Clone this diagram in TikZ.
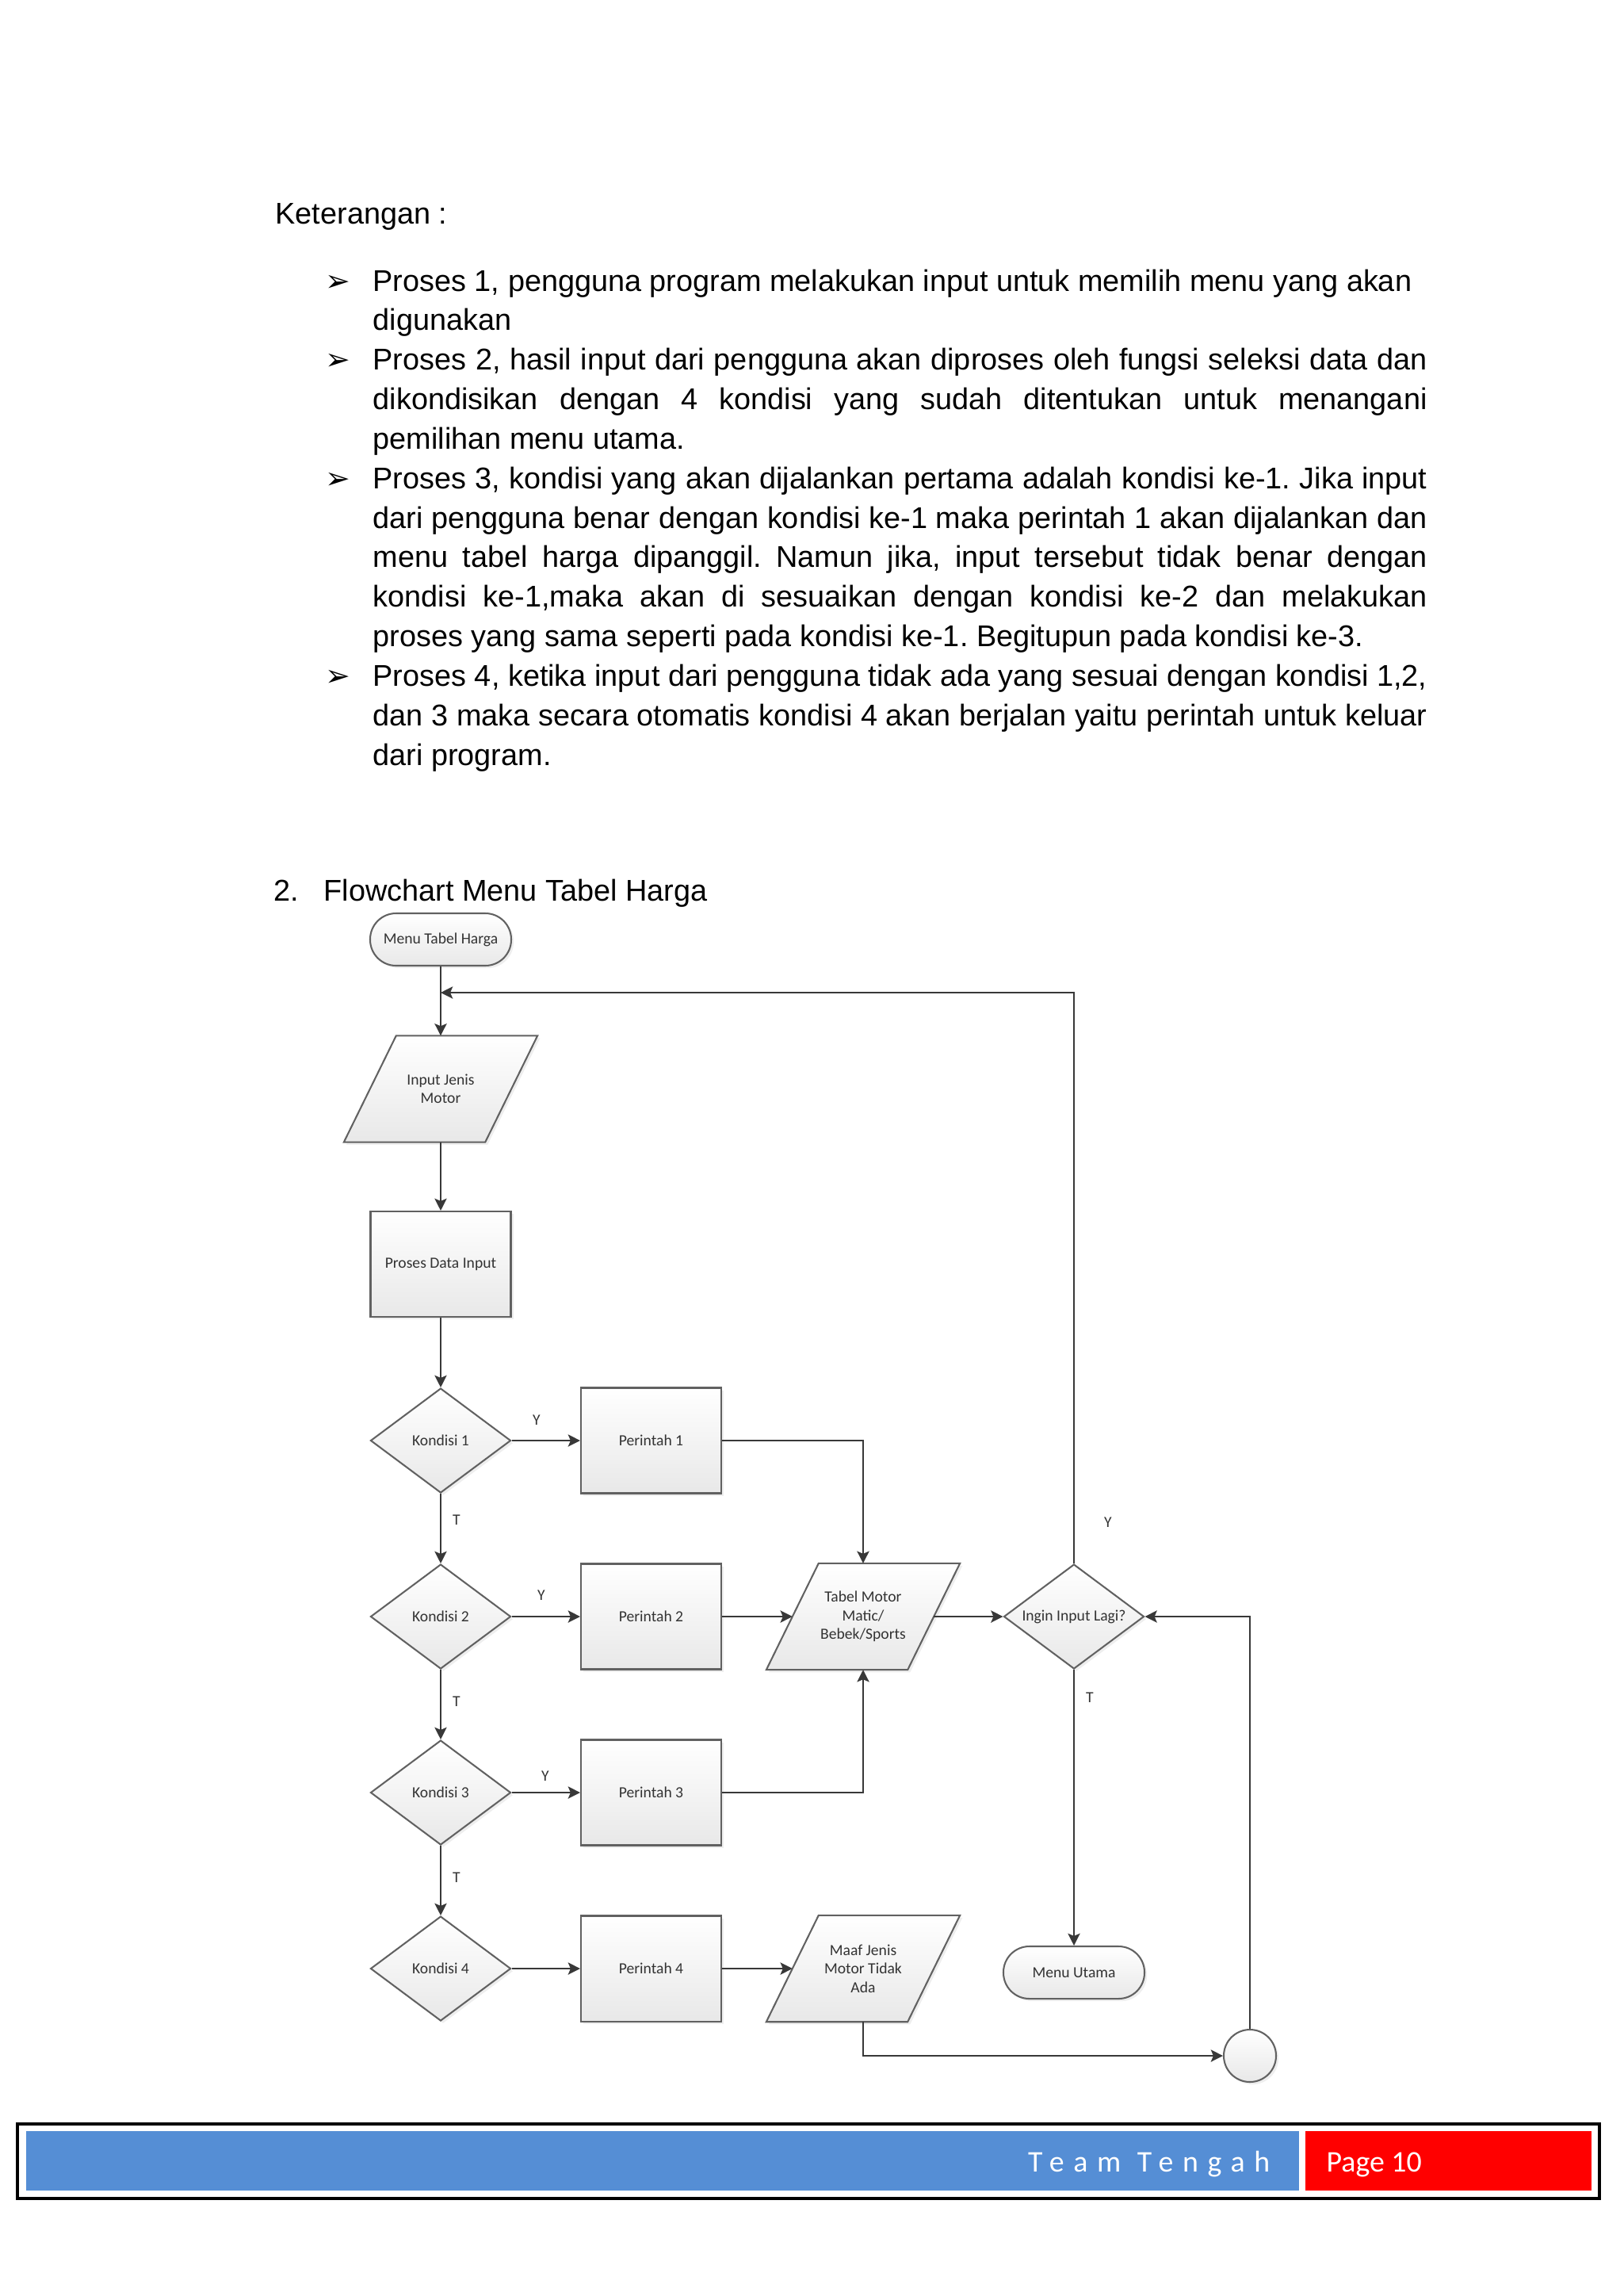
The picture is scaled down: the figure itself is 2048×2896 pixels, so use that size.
\documentclass[tikz,border=0pt]{standalone}
\usepackage{fontspec}
\setmainfont{Liberation Sans}
\newfontfamily\calfont{Carlito}
\newfontfamily\dejafont{DejaVu Sans}
\usetikzlibrary{shapes.geometric,arrows.meta,calc,backgrounds,shadows}
\pgfdeclarelayer{bgpage}
\pgfsetlayers{bgpage,background,main}
\def\pxl{0.29067pt}
\frenchspacing
\definecolor{footblue}{RGB}{85,142,213}
\begin{document}
\begin{tikzpicture}[x=0.29067pt,y=-0.29067pt,
  body/.style={font=\fontsize{11}{14.5}\selectfont, anchor=base west, inner sep=0},
  bul/.style={font=\dejafont\fontsize{11}{12}\selectfont, anchor=base west, inner sep=0},
  fc/.style={font=\calfont\fontsize{5.7}{6.85}\selectfont, text=black!80, align=center, inner sep=0},
  shp/.style={draw=black!62, line width=0.6pt, top color=white, bottom color=black!9,
    drop shadow={opacity=0.13, shadow xshift=0.9pt, shadow yshift=-0.9pt}},
  procbox/.style={fc, shp, rectangle, minimum width=177*\pxl, minimum height=133*\pxl},
  decbox/.style={fc, shp, diamond, aspect=1.34, minimum width=177*\pxl, minimum height=132*\pxl},
  termbox/.style={fc, shp, rectangle, rounded corners=9.5pt, minimum width=178*\pxl, minimum height=66*\pxl},
  iobox/.style={fc, rectangle, minimum width=177*\pxl, minimum height=133*\pxl},
  connbox/.style={shp, circle, minimum size=66*\pxl, inner sep=0},
  lbl/.style={fc},
  ln/.style={draw=black!78, line width=0.75pt},
  arr/.style={ln, -{Stealth[length=4.4pt,width=4.4pt,inset=0.9pt]}}
]
\useasboundingbox (0,0) rectangle (2048,2896);
\begin{pgfonlayer}{bgpage}
\fill[white] (0,0) rectangle (2048,2896);
\end{pgfonlayer}

% ---------- text ----------
\node[body] (ket) at (347,282) {Keterangan :};
\node[bul] (b0) at (410,367) {➢};
\node[bul] (b1) at (410,466.7) {➢};
\node[bul] (b2) at (410,616.25) {➢};
\node[bul] (b3) at (410,865.5) {➢};
\node[body] (l0) at (470,367) {Proses 1, pengguna program melakukan input untuk memilih menu yang akan};
\node[body] (l1) at (470,416.85) {digunakan};
\node[body] (l2) at (470,466.7) {\makebox[386.6pt][s]{Proses 2, hasil input dari pengguna akan diproses oleh fungsi seleksi data dan}};
\node[body] (l3) at (470,516.55) {\makebox[386.6pt][s]{dikondisikan dengan 4 kondisi yang sudah ditentukan untuk menangani}};
\node[body] (l4) at (470,566.4) {pemilihan menu utama.};
\node[body] (l5) at (470,616.25) {\makebox[386.6pt][s]{Proses 3, kondisi yang akan dijalankan pertama adalah kondisi ke-1. Jika input}};
\node[body] (l6) at (470,666.1) {\makebox[386.6pt][s]{dari pengguna benar dengan kondisi ke-1 maka perintah 1 akan dijalankan dan}};
\node[body] (l7) at (470,715.95) {\makebox[386.6pt][s]{menu tabel harga dipanggil. Namun jika, input tersebut tidak benar dengan}};
\node[body] (l8) at (470,765.8) {\makebox[386.6pt][s]{kondisi ke-1,maka akan di sesuaikan dengan kondisi ke-2 dan melakukan}};
\node[body] (l9) at (470,815.65) {proses yang sama seperti pada kondisi ke-1. Begitupun pada kondisi ke-3.};
\node[body] (l10) at (470,865.5) {\makebox[386.6pt][s]{Proses 4, ketika input dari pengguna tidak ada yang sesuai dengan kondisi 1,2,}};
\node[body] (l11) at (470,915.35) {\makebox[386.6pt][s]{dan 3 maka secara otomatis kondisi 4 akan berjalan yaitu perintah untuk keluar}};
\node[body] (l12) at (470,965.2) {dari program.};

\node[body] (hnum) at (345,1136) {2.};
\node[body] (htitle) at (408,1136) {Flowchart Menu Tabel Harga};

% ---------- flowchart nodes ----------
\node[termbox] (start) at (556,1185) {Menu Tabel Harga};
\coordinate (j1) at (556,1252);
\node[iobox] (inp) at (556,1373.5) {Input Jenis\\Motor};
\node[procbox] (proc) at (556,1594.5) {Proses Data Input};
\node[decbox] (k1) at (556,1817) {Kondisi 1};
\node[decbox] (k2) at (556,2039) {Kondisi 2};
\node[decbox] (k3) at (556,2261) {Kondisi 3};
\node[decbox] (k4) at (556,2483) {Kondisi 4};
\node[procbox] (p1) at (821.5,1817) {Perintah 1};
\node[procbox] (p2) at (821.5,2039) {Perintah 2};
\node[procbox] (p3) at (821.5,2261) {Perintah 3};
\node[procbox] (p4) at (821.5,2483) {Perintah 4};
\node[iobox] (tab) at (1089,2039) {Tabel Motor\\Matic/\\Bebek/Sports};
\node[iobox] (maaf) at (1089,2483) {Maaf Jenis\\Motor Tidak\\Ada};
\node[decbox] (lagi) at (1355,2039) {Ingin Input Lagi?};
\node[termbox] (utama) at (1355,2488) {Menu Utama};
\node[connbox] (conn) at (1577,2593) {};

\begin{scope}[on background layer]
\foreach \n in {inp,tab,maaf}{
  \path[shp] ($(\n.north west)+(33,0)$) -- ($(\n.north east)+(33,0)$)
     -- ($(\n.south east)+(-33,0)$) -- ($(\n.south west)+(-33,0)$) -- cycle;
}
\end{scope}

% ---------- labels ----------
\node[lbl] (yk1) at (677,1791) {Y};
\node[lbl] (yk2) at (683,2012) {Y};
\node[lbl] (yk3) at (688,2240) {Y};
\node[lbl] (tk1) at (576,1917) {T};
\node[lbl] (tk2) at (576,2146) {T};
\node[lbl] (tk3) at (576,2368) {T};
\node[lbl] (ylagi) at (1398,1920) {Y};
\node[lbl] (tlagi) at (1375,2141) {T};

% ---------- connectors ----------
\draw[arr] (start) -- (inp);
\draw[arr] (inp) -- (proc);
\draw[arr] (proc) -- (k1);
\draw[arr] (k1) -- (k2);
\draw[arr] (k2) -- (k3);
\draw[arr] (k3) -- (k4);
\draw[arr] (k1) -- (p1);
\draw[arr] (k2) -- (p2);
\draw[arr] (k3) -- (p3);
\draw[arr] (k4) -- (p4);
\draw[arr] (p1.east) -| (tab.north);
\draw[arr] (p2) -- (tab);
\draw[arr] (p3.east) -| (tab.south);
\draw[arr] (p4) -- (maaf);
\draw[arr] (tab) -- (lagi);
\draw[arr] (lagi.north) |- (j1);
\draw[arr] (lagi) -- (utama);
\draw[arr] (maaf.south) |- (conn);
\draw[arr] (conn) |- (lagi);

% ---------- footer ----------
\draw[black, line width=0.9pt] (22,2679) rectangle (2018,2773);
\fill[footblue] (33,2688) rectangle (1639,2763);
\fill[red] (1647,2688) rectangle (2008,2763);
\node[anchor=base east, inner sep=0, text=white, font=\calfont\fontsize{11}{13}\selectfont\addfontfeature{LetterSpace=31}] (team) at (1603,2739) {Team Tengah};
\node[anchor=base west, inner sep=0, text=white, font=\calfont\fontsize{11}{13}\selectfont] (page) at (1673,2739) {Page 10};
\end{tikzpicture}
\end{document}
